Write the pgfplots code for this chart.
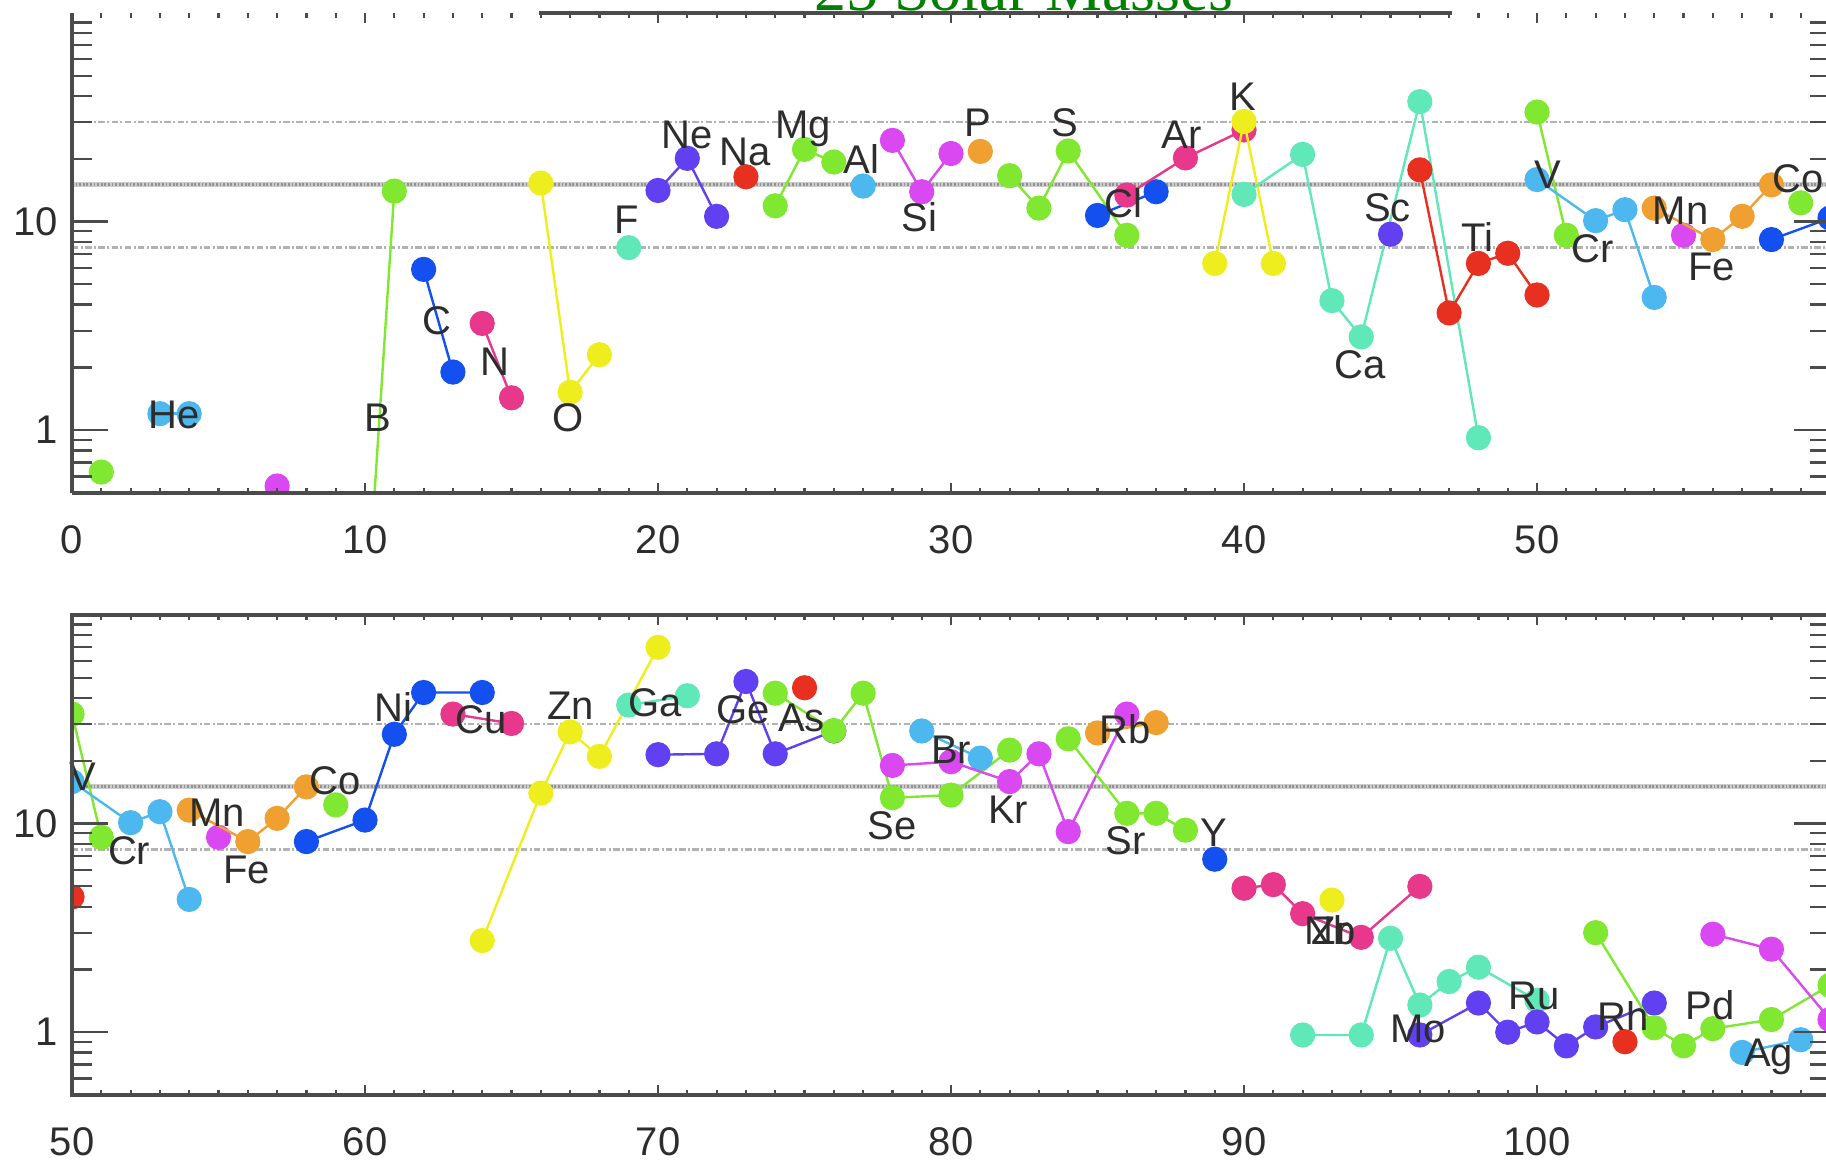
\documentclass[border=0pt]{standalone}
\usepackage{pgfplots}
\pgfplotsset{compat=1.18}
\usepackage{fontspec}
\setmainfont{Liberation Sans}
\newfontfamily\titlefont{Liberation Serif}

\definecolor{cGreen}{RGB}{128,232,48}
\definecolor{cLBlue}{RGB}{77,184,240}
\definecolor{cMag}{RGB}{218,72,242}
\definecolor{cOrange}{RGB}{240,160,48}
\definecolor{cBlue}{RGB}{20,80,240}
\definecolor{cPink}{RGB}{232,56,140}
\definecolor{cYellow}{RGB}{238,238,30}
\definecolor{cAqua}{RGB}{96,232,184}
\definecolor{cPurple}{RGB}{96,64,240}
\definecolor{cRed}{RGB}{232,48,32}
\definecolor{axisgray}{RGB}{75,75,75}
\definecolor{txtgray}{RGB}{45,45,45}
\definecolor{titlegreen}{RGB}{0,128,0}

\tikzset{
  axisln/.style={color=axisgray, line width=0.8pt},
  lbl/.style={inner sep=0pt, anchor=center, text height=7.2pt, text depth=0pt,
    text=txtgray, font=\fontsize{10}{12}\selectfont},
}

\newcommand{\el}[2]{\addplot[color=#1, line width=0.6pt, mark=*, mark size=2.85pt, mark options={draw=none, fill=#1}] coordinates {#2};}

\newcommand{\refl}[2]{%
  \addplot[gray!60, line width=0.7pt, dash pattern=on 1.6pt off 0.6pt on 0.5pt off 0.6pt] coordinates {(#1,30) (#2,30)};
  \addplot[gray!60, line width=0.7pt, dash pattern=on 1.6pt off 0.6pt on 0.5pt off 0.6pt] coordinates {(#1,7.5) (#2,7.5)};
  \addplot[gray!40, line width=1.2pt] coordinates {(#1,15) (#2,15)};
  \addplot[gray!85, line width=0.8pt, dash pattern=on 0.45pt off 0.45pt] coordinates {(#1,15) (#2,15)};
}

\newcommand{\allelements}{%
  \el{cGreen}{(1,0.63)}
  \el{cLBlue}{(3,1.2) (4,1.2)}
  \el{cMag}{(7,0.54)}
  \el{cGreen}{(10,0.1) (11,14.0)}
  \el{cBlue}{(12,5.9) (13,1.9)}
  \el{cPink}{(14,3.25) (15,1.43)}
  \el{cYellow}{(16,15.3) (17,1.52) (18,2.3)}
  \el{cAqua}{(19,7.5)}
  \el{cPurple}{(20,14.1) (21,20.1) (22,10.6)}
  \el{cRed}{(23,16.4)}
  \el{cGreen}{(24,11.9) (25,22.2) (26,19.3)}
  \el{cLBlue}{(27,14.8)}
  \el{cMag}{(28,24.5) (29,13.9) (30,21.2)}
  \el{cOrange}{(31,21.7)}
  \el{cGreen}{(32,16.6) (33,11.6) (34,21.8) (36,8.6)}
  \el{cBlue}{(35,10.7) (37,13.9)}
  \el{cPink}{(36,13.4) (38,20.2) (40,27.5)}
  \el{cYellow}{(39,6.3) (40,30.2) (41,6.3)}
  \el{cAqua}{(40,13.5) (42,21) (43,4.18) (44,2.8) (46,37.6) (48,0.92)}
  \el{cPurple}{(45,8.7)}
  \el{cRed}{(46,17.7) (47,3.65) (48,6.3) (49,7.05) (50,4.45)}
  \el{cGreen}{(50,33.5) (51,8.6)}
  \el{cLBlue}{(50,15.9) (52,10.1) (53,11.4) (54,4.33)}
  \el{cMag}{(55,8.6)}
  \el{cOrange}{(54,11.6) (56,8.2) (57,10.6) (58,15)}
  \el{cGreen}{(59,12.3)}
  \el{cBlue}{(58,8.2) (60,10.4) (61,26.8) (62,42.5) (64,42.5)}
  \el{cPink}{(63,33.5) (65,30.2)}
  \el{cYellow}{(64,2.75) (66,14) (67,27.5) (68,21) (70,70)}
  \el{cAqua}{(69,37) (71,41)}
  \el{cPurple}{(70,21.4) (72,21.6) (73,48) (74,21.6) (76,27.8)}
  \el{cRed}{(75,44.8)}
  \el{cGreen}{(74,42.2) (76,27.9) (77,42.2) (78,13.3) (80,13.7) (82,22.5)}
  \el{cLBlue}{(79,27.8) (81,20.6)}
  \el{cMag}{(78,19) (80,19.8) (82,15.9) (83,21.6) (84,9.15) (86,33.5)}
  \el{cOrange}{(85,27.2) (87,30.5)}
  \el{cGreen}{(84,25.5) (86,11.2) (87,11.2) (88,9.3)}
  \el{cBlue}{(89,6.75)}
  \el{cPink}{(90,4.9) (91,5.1) (92,3.7) (94,2.85) (96,5.0)}
  \el{cYellow}{(93,4.3)}
  \el{cAqua}{(92,0.97) (94,0.97) (95,2.82) (96,1.35) (97,1.75) (98,2.05) (100,1.42)}
  \el{cPurple}{(96,0.97) (98,1.38) (99,1.0) (100,1.12) (101,0.86) (102,1.06) (104,1.38)}
  \el{cRed}{(103,0.9)}
  \el{cGreen}{(102,3.0) (104,1.05) (105,0.86) (106,1.04) (108,1.15) (110,1.68)}
  \el{cLBlue}{(107,0.8) (109,0.92)}
  \el{cMag}{(106,2.95) (108,2.5) (110,1.15)}
}

\begin{document}
\begin{tikzpicture}
\begin{axis}[at={(18pt,-123.25pt)}, anchor=south west,
  scale only axis, width=439.5pt, height=120pt,
  ymode=log, ymin=0.5, ymax=100,
  ytick={1,10}, yticklabels={1,10},
  minor ytick={0.5,0.6,0.7,0.8,0.9,2,3,4,5,6,7,8,9,20,30,40,50,60,70,80,90},
  xmin=0, xmax=60, xtick={0,10,20,30,40,50}, xticklabels={0,10,20,30,40,50},
  minor xtick={0,1,...,60},
  tick align=inside,
  clip mode=individual, clip marker paths=true,
  axis on top,
  ticklabel style={font=\fontsize{10}{12}\selectfont, text=txtgray},
  xticklabel style={yshift=-4.5pt},
  tick style={color=axisgray, line width=0.55pt},
  major tick length=9pt, minor tick length=5pt,
  xtick style={/pgfplots/major tick length=2.5pt, /pgfplots/minor tick length=1.3pt},
  axis line style={draw=none}]
\refl{0}{60}
\allelements
\node[lbl] at (axis cs:3.5,1.2) {He};
\node[lbl] at (axis cs:10.45,1.16) {B};
\node[lbl] at (axis cs:12.44,3.37) {C};
\node[lbl] at (axis cs:14.43,2.15) {N};
\node[lbl] at (axis cs:16.93,1.16) {O};
\node[lbl] at (axis cs:18.92,10.3) {F};
\node[lbl] at (axis cs:20.99,26.4) {Ne};
\node[lbl] at (axis cs:22.97,21.8) {Na};
\node[lbl] at (axis cs:24.96,29.3) {Mg};
\node[lbl] at (axis cs:26.95,19.9) {Al};
\node[lbl] at (axis cs:28.93,10.5) {Si};
\node[lbl] at (axis cs:30.92,30.1) {P};
\node[lbl] at (axis cs:33.9,30.1) {S};
\node[lbl] at (axis cs:35.89,12.2) {Cl};
\node[lbl] at (axis cs:37.88,26.4) {Ar};
\node[lbl] at (axis cs:39.97,40) {K};
\node[lbl] at (axis cs:43.95,2.08) {Ca};
\node[lbl] at (axis cs:44.9,11.7) {Sc};
\node[lbl] at (axis cs:47.95,8.4) {Ti};
\node[lbl] at (axis cs:50.36,16.9) {V};
\node[lbl] at (axis cs:51.9,7.5) {Cr};
\node[lbl] at (axis cs:54.9,11.4) {Mn};
\node[lbl] at (axis cs:55.95,6.1) {Fe};
\node[lbl] at (axis cs:58.9,16.2) {Co};
\draw[axisln] (rel axis cs:0,0) -- (rel axis cs:1,0);
\draw[axisln] (rel axis cs:0,0) -- (rel axis cs:0,1);
\draw[axisln] (rel axis cs:1,0) -- (rel axis cs:1,1);
\draw[axisln] (axis cs:15.94,100) -- (axis cs:47.1,100);
\end{axis}

\begin{axis}[at={(18pt,-273.75pt)}, anchor=south west,
  scale only axis, width=439.5pt, height=120pt,
  ymode=log, ymin=0.5, ymax=100,
  ytick={1,10}, yticklabels={1,10},
  minor ytick={0.5,0.6,0.7,0.8,0.9,2,3,4,5,6,7,8,9,20,30,40,50,60,70,80,90},
  xmin=50, xmax=110, xtick={50,60,70,80,90,100}, xticklabels={50,60,70,80,90,100},
  minor xtick={50,51,...,110},
  tick align=inside,
  clip mode=individual, clip marker paths=true,
  axis on top,
  ticklabel style={font=\fontsize{10}{12}\selectfont, text=txtgray},
  xticklabel style={yshift=-4.5pt},
  tick style={color=axisgray, line width=0.55pt},
  major tick length=9pt, minor tick length=5pt,
  xtick style={/pgfplots/major tick length=2.5pt, /pgfplots/minor tick length=1.3pt},
  axis line style={color=axisgray, line width=0.8pt}]
\refl{50}{110}
\allelements
\node[lbl] at (axis cs:50.36,16.9) {V};
\node[lbl] at (axis cs:51.95,7.5) {Cr};
\node[lbl] at (axis cs:54.95,11.4) {Mn};
\node[lbl] at (axis cs:55.96,6.08) {Fe};
\node[lbl] at (axis cs:58.98,16.2) {Co};
\node[lbl] at (axis cs:60.97,36.3) {Ni};
\node[lbl] at (axis cs:63.95,31.6) {Cu};
\node[lbl] at (axis cs:67.01,36.8) {Zn};
\node[lbl] at (axis cs:69.91,38.2) {Ga};
\node[lbl] at (axis cs:72.9,35.4) {Ge};
\node[lbl] at (axis cs:74.9,32.3) {As};
\node[lbl] at (axis cs:78.0,9.86) {Se};
\node[lbl] at (axis cs:80.0,22.8) {Br};
\node[lbl] at (axis cs:81.95,11.8) {Kr};
\node[lbl] at (axis cs:85.95,28.4) {Rb};
\node[lbl] at (axis cs:85.95,8.37) {Sr};
\node[lbl] at (axis cs:88.97,9.1) {Y};
\node[lbl] at (axis cs:92.95,3.1) {Zr};
\node[lbl] at (axis cs:92.95,3.1) {Nb};
\node[lbl] at (axis cs:95.95,1.05) {Mo};
\node[lbl] at (axis cs:99.9,1.5) {Ru};
\node[lbl] at (axis cs:102.95,1.2) {Rh};
\node[lbl] at (axis cs:105.9,1.35) {Pd};
\node[lbl] at (axis cs:107.9,0.8) {Ag};
\end{axis}

\node[anchor=base, text=titlegreen, inner sep=0pt, font=\titlefont\fontsize{16}{19}\selectfont] at (256pt,-2.6pt) {25 Solar Masses};

\pgfresetboundingbox
\useasboundingbox (0,0) rectangle (456.5pt,-290.5pt);
\end{tikzpicture}
\end{document}
